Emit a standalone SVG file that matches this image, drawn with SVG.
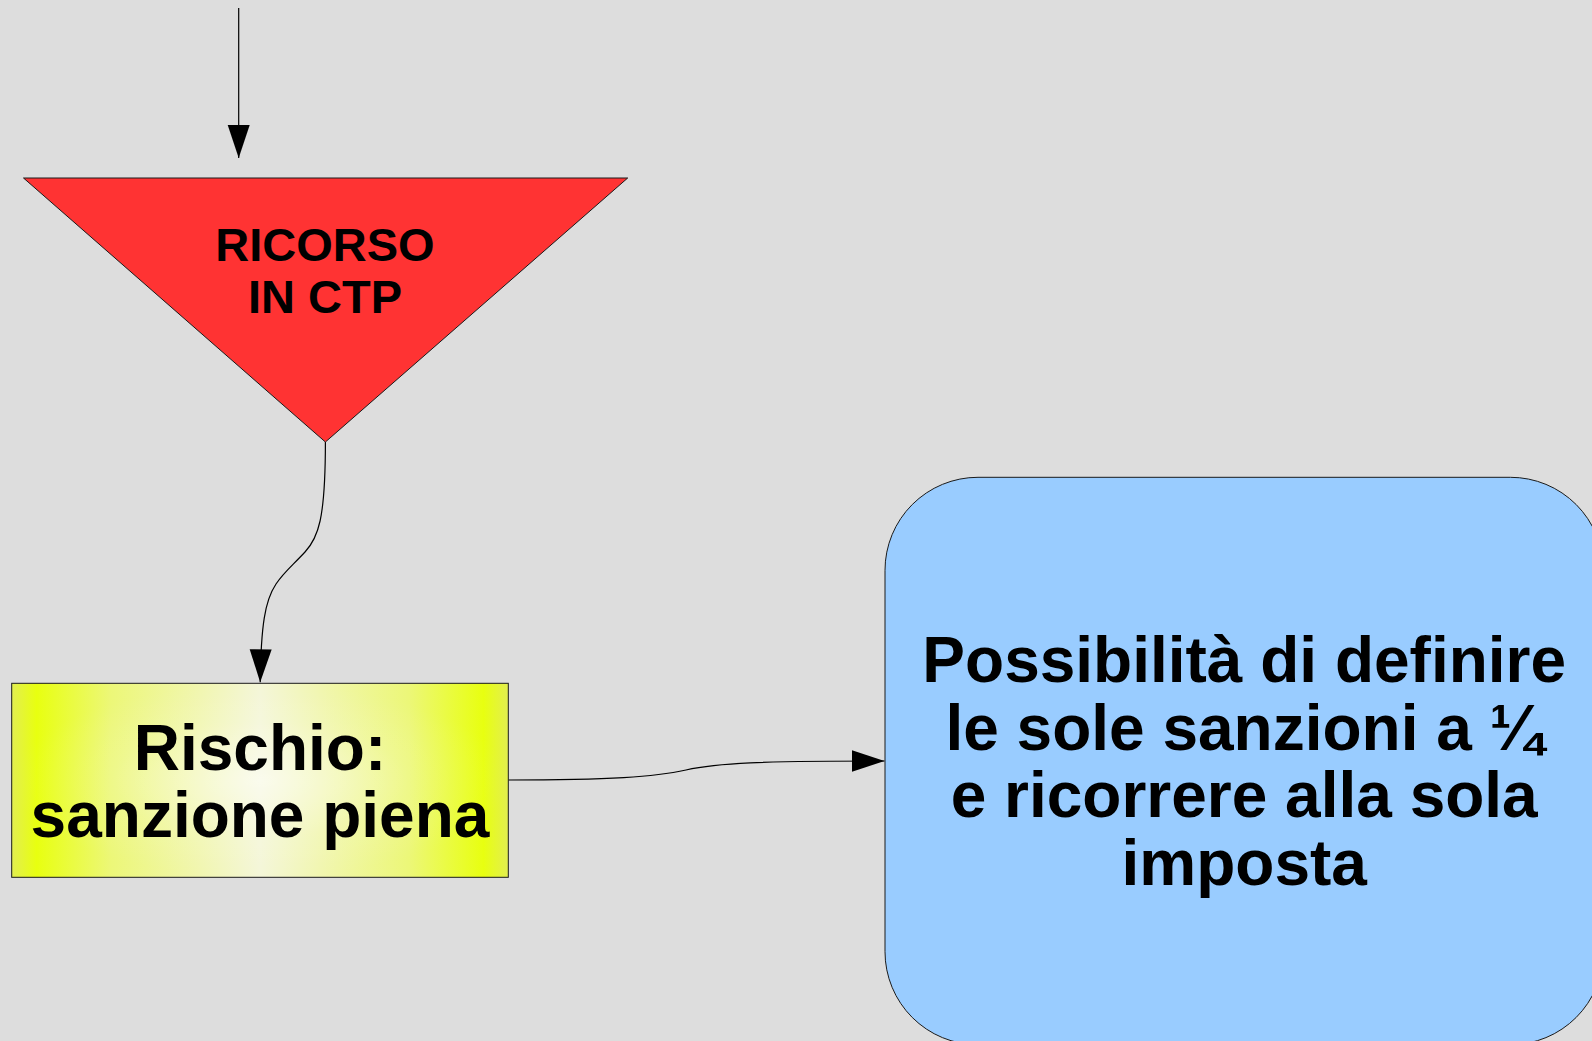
<svg xmlns="http://www.w3.org/2000/svg" width="1592" height="1041" viewBox="0 0 1592 1041">
  <style>
    .lbl { font-family: "Liberation Sans", Arial, sans-serif; font-weight: bold; fill: #000000; text-anchor: middle; }
    .shape { stroke: #1a1a1a; stroke-width: 1; }
    .conn { fill: none; stroke: #000000; stroke-width: 1.2; }
  </style>
  <defs>
    <marker id="arrow" markerUnits="userSpaceOnUse" markerWidth="34" markerHeight="24" refX="33" refY="11" orient="auto">
      <path d="M0,0 L33,11 L0,22 z" fill="#000000"/>
    </marker>
    <linearGradient id="yellowH" x1="0" y1="0" x2="1" y2="0">
      <stop offset="0" stop-color="#e2ee50"/>
      <stop offset="0.05" stop-color="#e8ff10"/>
      <stop offset="0.2" stop-color="#ecf778"/>
      <stop offset="0.38" stop-color="#f1f6b0"/>
      <stop offset="0.5" stop-color="#f4f6d8"/>
      <stop offset="0.62" stop-color="#f1f6b0"/>
      <stop offset="0.8" stop-color="#ecf778"/>
      <stop offset="0.95" stop-color="#e8ff10"/>
      <stop offset="1" stop-color="#e2ee50"/>
    </linearGradient>
    <radialGradient id="yellowC" cx="0.5" cy="0.5" r="0.5">
      <stop offset="0" stop-color="#ffffff" stop-opacity="0.55"/>
      <stop offset="0.6" stop-color="#ffffff" stop-opacity="0.12"/>
      <stop offset="1" stop-color="#ffffff" stop-opacity="0"/>
    </radialGradient>
  </defs>
  <rect x="0" y="0" width="1592" height="1041" fill="#dddddd"/>

  <g id="connectors">
    <path class="conn" d="M238.7,8 L238.7,158" marker-end="url(#arrow)"/>
    <path class="conn" d="M325.4,442 C325.4,520 318,538 305,552 C292,566 284,572 276,584 C265,600.5 261,625 260.2,682.3" marker-end="url(#arrow)"/>
    <path class="conn" d="M508.3,780 C610,780 655,777 686,770 C717,763 760,761 884.5,761" marker-end="url(#arrow)"/>
  </g>

  <g id="node-ricorso">
    <polygon class="shape" points="23.5,178 627.7,178 325.4,442" fill="#ff3333"/>
    <text class="lbl" x="325" y="260.7" font-size="47">RICORSO</text>
    <text class="lbl" x="325" y="313.3" font-size="47">IN CTP</text>
  </g>

  <g id="node-rischio">
    <rect class="shape" x="11.7" y="683.3" width="496.6" height="194" fill="url(#yellowH)"/>
    <rect x="12.2" y="683.8" width="495.6" height="193" fill="url(#yellowC)"/>
    <text class="lbl" x="260" y="770" font-size="64">Rischio:</text>
    <text class="lbl" x="260" y="836.7" font-size="64">sanzione piena</text>
  </g>

  <g id="node-possibilita">
    <rect class="shape" x="885" y="477.3" width="718.4" height="567.4" rx="93" ry="93" fill="#99ccff"/>
    <text class="lbl" x="1244.2" y="681.7" font-size="64">Possibilità di definire</text>
    <text class="lbl" x="1244.2" y="750" font-size="64">le sole sanzioni a ¼</text>
    <text class="lbl" x="1244.2" y="817.3" font-size="64">e ricorrere alla sola</text>
    <text class="lbl" x="1244.2" y="885" font-size="64">imposta</text>
  </g>
</svg>
